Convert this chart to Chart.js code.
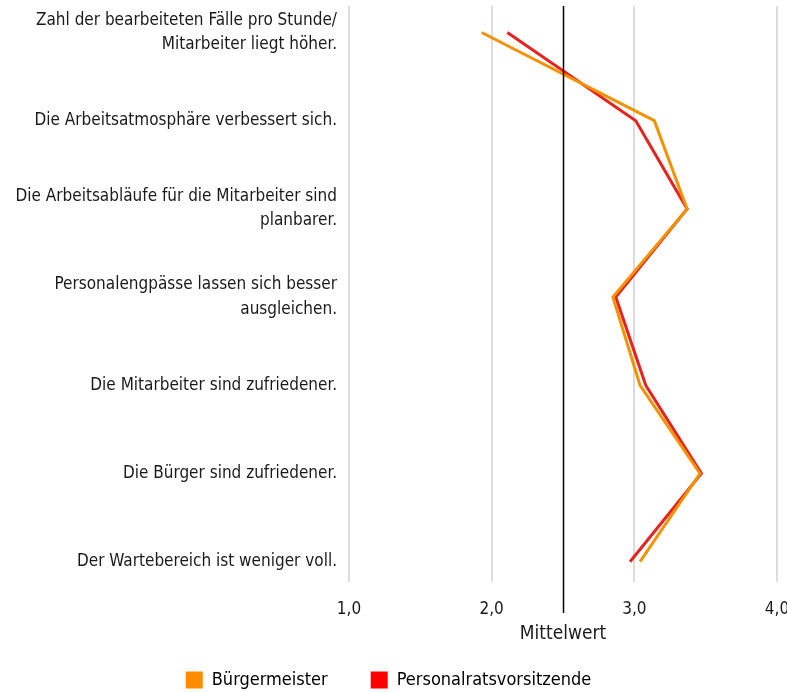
<!DOCTYPE html>
<html>
<head>
<meta charset="utf-8">
<script src="https://cdn.jsdelivr.net/npm/chart.js@4/dist/chart.umd.min.js"></script>
<style>
  html, body { margin: 0; padding: 0; background: #fff; }
  #wrap { width: 787px; height: 692px; }
</style>
</head>
<body>
<div id="wrap"><canvas id="chart-area" width="787" height="692"></canvas></div>
<script>
var categories = [
    ["Zahl der bearbeiteten Fälle pro Stunde/", "Mitarbeiter liegt höher."],
    "Die Arbeitsatmosphäre verbessert sich.",
    ["Die Arbeitsabläufe für die Mitarbeiter sind", "planbarer."],
    ["Personalengpässe lassen sich besser", "ausgleichen."],
    "Die Mitarbeiter sind zufriedener.",
    "Die Bürger sind zufriedener.",
    "Der Wartebereich ist weniger voll."
];
var buergermeister = [1.93, 3.14, 3.37, 2.85, 3.04, 3.46, 3.04];
var personalrat = [2.11, 3.01, 3.37, 2.87, 3.08, 3.47, 2.97];
var seriesNames = ["Bürgermeister", "Personalratsvorsitzende"];
var xTicks = [1, 2, 3, 4];
var referenceValue = 2.5;
var axisTitle = "Mittelwert";

var fontFamily = "'Liberation Sans Narrow', 'DejaVu Sans Condensed', 'Roboto', sans-serif";
var textColor = "#1a1a1a";

function toPoints(values) {
    var pts = [];
    for (var i = 0; i < values.length; i++) {
        pts.push({x: values[i], y: i});
    }
    return pts;
}

// vertical black line at the scale midpoint
var refLine = {
    id: 'refLine',
    afterDatasetsDraw: function(chart) {
        var ctx = chart.ctx;
        var x = Math.round(chart.scales.x.getPixelForValue(referenceValue)) + 0.5;
        ctx.save();
        ctx.strokeStyle = "#000";
        ctx.lineWidth = 1.5;
        ctx.beginPath();
        ctx.moveTo(x, chart.chartArea.top);
        ctx.lineTo(x, chart.chartArea.bottom + 31);
        ctx.stroke();
        ctx.restore();
    }
};

var ctx = document.getElementById("chart-area").getContext("2d");
var myChart = new Chart(ctx, {
    type: 'line',
    data: {
        datasets: [
            {
                label: seriesNames[0],
                data: toPoints(buergermeister),
                borderColor: "#f39200",
                backgroundColor: "#ff8c00",
                borderWidth: 3,
                pointRadius: 0,
                tension: 0
            },
            {
                label: seriesNames[1],
                data: toPoints(personalrat),
                borderColor: "#e52420",
                backgroundColor: "#ff0000",
                borderWidth: 3,
                pointRadius: 0,
                tension: 0
            }
        ]
    },
    options: {
        responsive: false,
        animation: false,
        layout: { padding: { top: 6, right: 10, left: 0, bottom: -7 } },
        plugins: {
            tooltip: { enabled: false },
            legend: {
                position: 'bottom',
                labels: {
                    boxWidth: 17,
                    boxHeight: 17,
                    padding: 43,
                    color: textColor,
                    font: { family: fontFamily, size: 18 },
                    generateLabels: function(chart) {
                        return chart.data.datasets.map(function(ds, i) {
                            return {
                                text: ds.label,
                                fillStyle: ds.backgroundColor,
                                strokeStyle: ds.backgroundColor,
                                lineWidth: 0,
                                datasetIndex: i
                            };
                        });
                    }
                }
            }
        },
        scales: {
            x: {
                type: 'linear',
                min: 1,
                max: 4,
                afterBuildTicks: function(scale) {
                    scale.ticks = xTicks.map(function(v) { return {value: v}; });
                },
                afterFit: function(scale) {
                    scale.paddingRight = 0;
                    scale.height = 46;
                },
                ticks: {
                    padding: 17,
                    color: textColor,
                    font: { family: fontFamily, size: 17 },
                    callback: function(v) { return v.toFixed(1).replace('.', ','); }
                },
                grid: { color: "#dcdcdc", lineWidth: 2, drawTicks: false },
                border: { display: false },
                title: {
                    display: true,
                    text: axisTitle,
                    color: textColor,
                    font: { family: fontFamily, size: 19 },
                    padding: { top: 0, bottom: -17 }
                }
            },
            y: {
                type: 'linear',
                reverse: true,
                min: -0.3,
                max: 6.23,
                afterBuildTicks: function(scale) {
                    scale.ticks = categories.map(function(c, i) { return {value: i}; });
                },
                afterFit: function(scale) {
                    scale.width = 349;
                    scale.paddingTop = 0;
                    scale.paddingBottom = 0;
                },
                ticks: {
                    padding: 12,
                    color: textColor,
                    font: { family: fontFamily, size: 17, lineHeight: 1.42 },
                    callback: function(v) { return categories[v]; }
                },
                grid: { display: false, drawTicks: false },
                border: { display: false }
            }
        }
    },
    plugins: [refLine]
});
</script>
</body>
</html>
